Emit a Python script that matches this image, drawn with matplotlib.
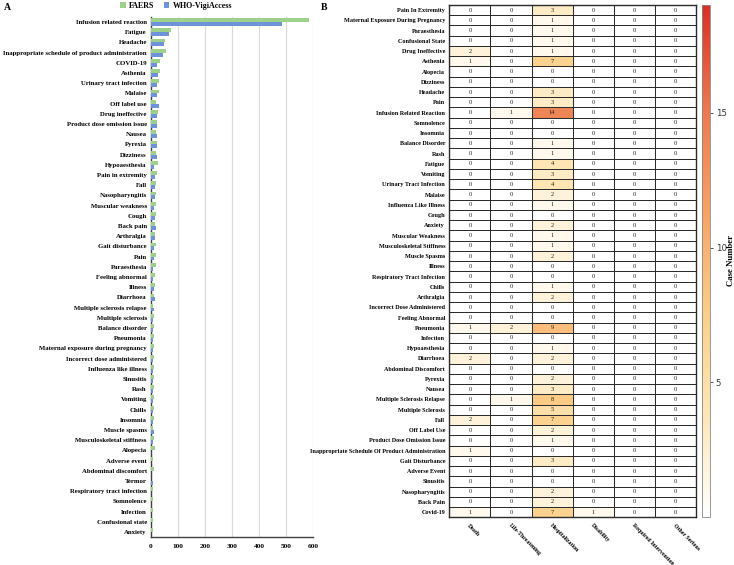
import matplotlib
matplotlib.use("Agg")
import matplotlib.pyplot as plt
import numpy as np
from matplotlib.colors import LinearSegmentedColormap

# ---------------- Panel A data ----------------
a_terms = ["Infusion related reaction", "Fatigue", "Headache",
           "Inappropriate schedule of product administration", "COVID-19", "Asthenia",
           "Urinary tract infection", "Malaise", "Off label use", "Drug ineffective",
           "Product dose omission issue", "Nausea", "Pyrexia", "Dizziness", "Hypoaesthesia",
           "Pain in extremity", "Fall", "Nasopharyngitis", "Muscular weakness", "Cough",
           "Back pain", "Arthralgia", "Gait disturbance", "Pain", "Paraesthesia",
           "Feeling abnormal", "Illness", "Diarrhoea", "Multiple sclerosis relapse",
           "Multiple sclerosis", "Balance disorder", "Pneumonia",
           "Maternal exposure during pregnancy", "Incorrect dose administered",
           "Influenza like illness", "Sinusitis", "Rash", "Vomiting", "Chills", "Insomnia",
           "Muscle spasms", "Musculoskeletal stiffness", "Alopecia", "Adverse event",
           "Abdominal discomfort", "Termor", "Respiratory tract infection", "Somnolence",
           "Infection", "Confusional state", "Anxiety"]
faers = [584, 74, 52, 54, 33, 32, 29, 29, 19, 25,
         24, 20, 21, 20, 25, 21, 18, 18, 18, 17,
         14, 15, 18, 17, 17, 16, 15, 11, 6, 12,
         11, 11, 12, 11, 11, 11, 10, 10, 10, 10,
         9, 10, 14, 9, 10, 0, 9, 8, 8, 8, 8]
who = [487, 65, 48, 44, 24, 27, 23, 21, 29, 22,
       21, 22, 21, 21, 11, 15, 15, 14, 11, 14,
       18, 15, 10, 12, 9, 9, 10, 14, 12, 8,
       9, 8, 6, 8, 8, 8, 8, 8, 8, 8,
       10, 6, 0, 0, 1, 8, 0, 0, 0, 0, 0]
a_xticks = [0, 100, 200, 300, 400, 500, 600]

# ---------------- Panel B data ----------------
b_terms = ["Pain In Extremity", "Maternal Exposure During Pregnancy", "Paraesthesia",
           "Confusional State", "Drug Ineffective", "Asthenia", "Alopecia", "Dizziness",
           "Headache", "Pain", "Infusion Related Reaction", "Somnolence", "Insomnia",
           "Balance Disorder", "Rash", "Fatigue", "Vomiting", "Urinary Tract Infection",
           "Malaise", "Influenza Like Illness", "Cough", "Anxiety", "Muscular Weakness",
           "Musculoskeletal Stiffness", "Muscle Spasms", "Illness",
           "Respiratory Tract Infection", "Chills", "Arthralgia",
           "Incorrect Dose Administered", "Feeling Abnormal", "Pneumonia", "Infection",
           "Hypoaesthesia", "Diarrhoea", "Abdominal Discomfort", "Pyrexia", "Nausea",
           "Multiple Sclerosis Relapse", "Multiple Sclerosis", "Fall", "Off Label Use",
           "Product Dose Omission Issue",
           "Inappropriate Schedule Of Product Administration", "Gait Disturbance",
           "Adverse Event", "Sinusitis", "Nasopharyngitis", "Back Pain", "Covid-19"]
b_cols = ["Death", "Life-Threatening", "Hospitalization", "Disability",
          "Required Intervention", "Other Serious"]
death = [0, 0, 0, 0, 2, 1, 0, 0, 0, 0, 0, 0, 0, 0, 0, 0, 0, 0, 0, 0, 0, 0, 0, 0, 0,
         0, 0, 0, 0, 0, 0, 1, 0, 0, 2, 0, 0, 0, 0, 0, 2, 0, 0, 1, 0, 0, 0, 0, 0, 1]
life_threat = [0, 0, 0, 0, 0, 0, 0, 0, 0, 0, 1, 0, 0, 0, 0, 0, 0, 0, 0, 0, 0, 0, 0, 0, 0,
               0, 0, 0, 0, 0, 0, 2, 0, 0, 0, 0, 0, 0, 1, 0, 0, 0, 0, 0, 0, 0, 0, 0, 0, 0]
hospital = [3, 1, 1, 1, 1, 7, 0, 0, 3, 3, 14, 0, 0, 1, 1, 4, 3, 4, 2, 1, 0, 2, 1, 1, 2,
            0, 0, 1, 2, 0, 0, 9, 0, 1, 2, 0, 2, 3, 8, 5, 7, 2, 1, 0, 3, 0, 0, 2, 2, 7]
disability = [0] * 49 + [1]
required_int = [0] * 50
other_serious = [0] * 50

# ---------------- Figure ----------------
W, H = 734, 565
fig = plt.figure(figsize=(W / 100, H / 100), dpi=100)
serif = ["Liberation Serif", "DejaVu Serif"]

def fx(px):
    return px / W

def fy(py):
    return 1 - py / H

# Panel A
axA = fig.add_axes([fx(151), fy(537), fx(313) - fx(151), fy(17) - fy(537)])
y = np.arange(len(a_terms))
bh = 0.38
c_faers = "#9dd08a"
c_who = "#6f93d8"
axA.barh(y - bh / 2, faers, height=bh, color=c_faers, label="FAERS", zorder=3)
axA.barh(y + bh / 2, who, height=bh, color=c_who, label="WHO-VigiAccess", zorder=3)
axA.set_ylim(len(a_terms) - 0.5, -0.5)
axA.set_xlim(0, 600)
axA.set_xticks(a_xticks)
axA.set_xticklabels([str(t) for t in a_xticks], fontfamily=serif, fontweight="bold", fontsize=5.3)
axA.set_yticks(y)
axA.set_yticklabels(a_terms, fontfamily=serif, fontweight="bold", fontsize=4.85)
axA.tick_params(axis="both", length=0, pad=3)
axA.tick_params(axis="x", pad=5)
axA.xaxis.grid(True, color="#d9d9d9", linewidth=0.8, zorder=0)
axA.set_axisbelow(True)
for s in ["top", "right"]:
    axA.spines[s].set_visible(False)
axA.spines["left"].set_color("#404040")
axA.spines["bottom"].set_color("#404040")
axA.spines["left"].set_linewidth(1.0)
axA.spines["bottom"].set_linewidth(1.0)

fig.legend(handles=axA.get_legend_handles_labels()[0], labels=["FAERS", "WHO-VigiAccess"],
           loc="center", bbox_to_anchor=(fx(176), fy(6)), ncol=2, frameon=False,
           prop={"family": serif, "weight": "bold", "size": 5.8},
           handlelength=0.7, handleheight=0.7, columnspacing=1.2, handletextpad=0.4)

fig.text(fx(4), fy(7), "A", fontfamily=serif, fontweight="bold", fontsize=7, va="center")
fig.text(fx(321), fy(7), "B", fontfamily=serif, fontweight="bold", fontsize=7, va="center")

# Panel B
mat = np.array([death, life_threat, hospital, disability, required_int, other_serious]).T
cmap = LinearSegmentedColormap.from_list(
    "casecmap", ["#ffffff", "#fde6b6", "#fbce88", "#f6a264", "#eb784f", "#d73027"])
vmin, vmax = 0, 19
axB = fig.add_axes([fx(449.3), fy(517.3), fx(696) - fx(449.3), fy(5) - fy(517.3)])
mesh = axB.pcolormesh(mat, cmap=cmap, vmin=vmin, vmax=vmax,
                      edgecolors="#2b2b2b", linewidth=0.7)
axB.set_xlim(0, mat.shape[1])
axB.set_ylim(mat.shape[0], 0)
for i in range(mat.shape[0]):
    for j in range(mat.shape[1]):
        axB.text(j + 0.5, i + 0.5, str(mat[i, j]), ha="center", va="center",
                 fontfamily=serif, fontsize=4.6, color="#222222")
axB.set_yticks(np.arange(mat.shape[0]) + 0.5)
axB.set_yticklabels(b_terms, fontfamily=serif, fontweight="bold", fontsize=4.4)
axB.set_xticks(np.arange(mat.shape[1]) + 0.5)
axB.set_xticklabels(b_cols, fontfamily=serif, fontweight="bold", fontsize=4.2,
                    rotation=-45, ha="left", va="top", rotation_mode="anchor")
axB.tick_params(axis="both", length=0, pad=3)
axB.tick_params(axis="x", pad=4)
for s in axB.spines.values():
    s.set_color("#2b2b2b")
    s.set_linewidth(1.0)

cax = fig.add_axes([fx(701.7), fy(517), fx(710) - fx(701.7), fy(5) - fy(517)])
cb = fig.colorbar(mesh, cax=cax)
cb.set_ticks([5, 10, 15])
cb.ax.tick_params(labelsize=6.2, length=2.5, width=0.6, colors="#333333", pad=1.5)
cb.outline.set_edgecolor("#888888")
cb.outline.set_linewidth(0.6)
cb.set_label("Case Number", fontfamily=serif, fontweight="bold", fontsize=6.3, labelpad=0)

fig.savefig("out.png", dpi=100)
